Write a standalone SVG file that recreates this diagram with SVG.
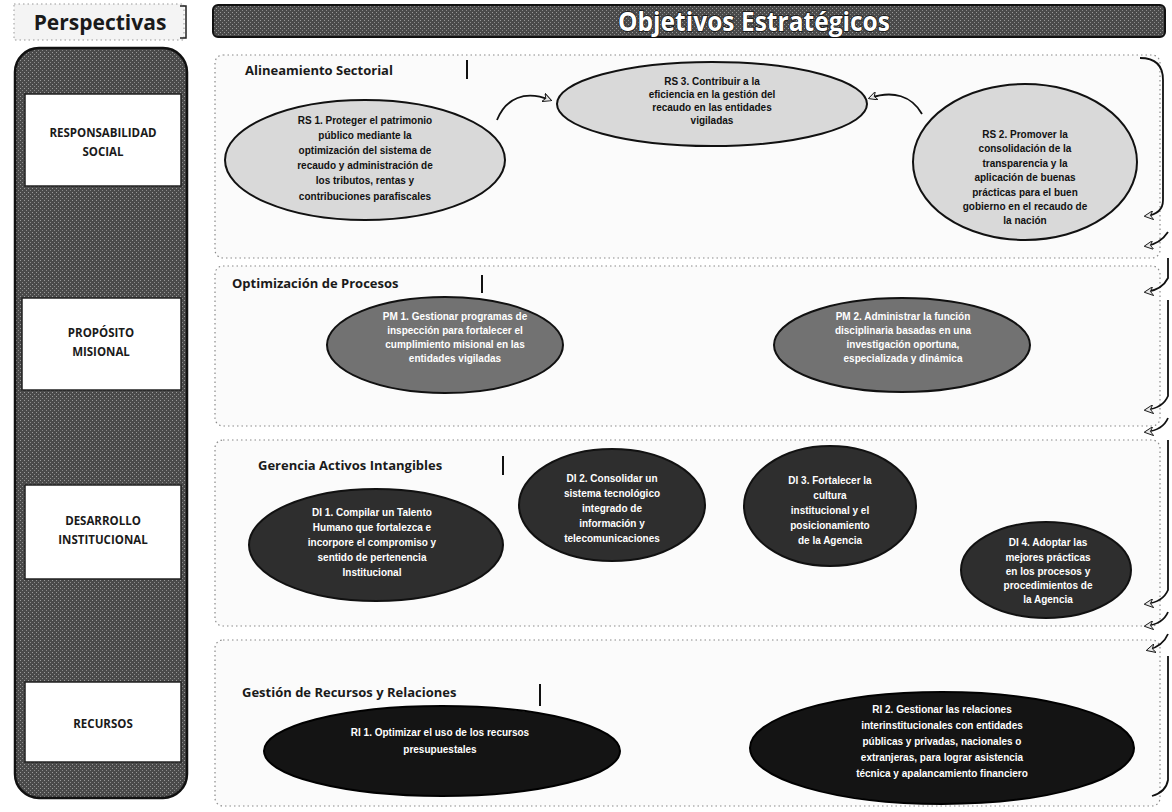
<svg xmlns="http://www.w3.org/2000/svg" width="1172" height="812" viewBox="0 0 1172 812">
<defs>
<marker id="ah" viewBox="0 0 10 10" refX="8" refY="5" markerWidth="9" markerHeight="9" orient="auto-start-reverse" markerUnits="userSpaceOnUse">
<path d="M0,0 L10,5 L0,10 L3,5 Z" fill="#e8e8e8" stroke="#111" stroke-width="1"/>
</marker>
<pattern id="grain" width="4" height="4" patternUnits="userSpaceOnUse">
<rect width="4" height="4" fill="#4a4a4a"/>
<rect x="0" y="0" width="1" height="1" fill="#9a9a9a"/>
<rect x="2" y="2" width="1" height="1" fill="#8a8a8a"/>
</pattern>
</defs>
<style>
.band{fill:#fbfbfb;stroke:#8a8a8a;stroke-width:1.2;stroke-dasharray:1.5 3}
.hdr{font-family:"Open Sans","Liberation Sans",Arial,sans-serif;font-weight:bold;font-size:13px;fill:#1a1a1a}
.bar{stroke:#111;stroke-width:2}
.et{font-family:"Liberation Sans",Arial,sans-serif;font-weight:bold;font-size:10px;text-anchor:middle}
.on-light{fill:#111}
.on-dark{fill:#fff}
.e1{fill:#d9d9d9;stroke:#111;stroke-width:2}
.e2{fill:#727272;stroke:#111;stroke-width:2}
.e3{fill:#2e2e2e;stroke:#111;stroke-width:2}
.e4{fill:#141414;stroke:#000;stroke-width:2}
.pbox{fill:#fff;stroke:#222;stroke-width:1.5}
.pl{font-family:"Open Sans","Liberation Sans",Arial,sans-serif;font-weight:bold;font-size:11.5px;text-anchor:middle;fill:#1a1a1a}
.conn{fill:none;stroke:#111;stroke-width:1.8}
</style>
<rect width="1172" height="812" fill="#ffffff"/>

<g id="header-perspectivas">
<rect x="14" y="4" width="170" height="36" fill="#f4f4f4" stroke="#999" stroke-dasharray="1.5 3"/>
<path d="M180,6 L186,6 L186,38 L180,38" fill="none" stroke="#222" stroke-width="1.5"/>
<text x="100" y="30" text-anchor="middle" font-family="'Open Sans','Liberation Sans',Arial,sans-serif" font-weight="bold" font-size="21" fill="#1a1a1a">Perspectivas</text>
</g>

<g id="header-objetivos">
<rect x="213" y="5" width="952" height="32" rx="5" fill="url(#grain)" stroke="#111" stroke-width="2"/>
<text x="754" y="31" text-anchor="middle" font-family="'Open Sans','Liberation Sans',Arial,sans-serif" font-weight="bold" font-size="27" fill="#fff" stroke="#111" stroke-width="1.6" paint-order="stroke" textLength="272" lengthAdjust="spacingAndGlyphs">Objetivos Estratégicos</text>
</g>

<g id="perspectives-column">
<rect x="15" y="48" width="172" height="750" rx="24" fill="url(#grain)" stroke="#111" stroke-width="2.5"/>
</g>
<g id="p-responsabilidad">
<rect class="pbox" x="25" y="94" width="156" height="92"/>
<text class="pl" x="103" y="137">RESPONSABILIDAD</text>
<text class="pl" x="103" y="156">SOCIAL</text>
</g>
<g id="p-proposito">
<rect class="pbox" x="22" y="298" width="159" height="92"/>
<text class="pl" x="101" y="337">PROPÓSITO</text>
<text class="pl" x="101" y="356">MISIONAL</text>
</g>
<g id="p-desarrollo">
<rect class="pbox" x="25" y="485" width="156" height="94"/>
<text class="pl" x="103" y="525">DESARROLLO</text>
<text class="pl" x="103" y="544">INSTITUCIONAL</text>
</g>
<g id="p-recursos">
<rect class="pbox" x="25" y="682" width="156" height="80"/>
<text class="pl" x="103" y="728">RECURSOS</text>
</g>

<g id="band-alineamiento">
<rect class="band" x="215" y="55" width="945" height="203" rx="8"/>
<text class="hdr" x="245" y="75">Alineamiento Sectorial</text>
<line class="bar" x1="467" y1="60" x2="467" y2="79"/>
</g>
<g id="band-optimizacion">
<rect class="band" x="215" y="266" width="945" height="160" rx="8"/>
<text class="hdr" x="232" y="288">Optimización de Procesos</text>
<line class="bar" x1="482" y1="275" x2="482" y2="293"/>
</g>
<g id="band-gerencia">
<rect class="band" x="215" y="440" width="945" height="186" rx="8"/>
<text class="hdr" x="258" y="470">Gerencia Activos Intangibles</text>
<line class="bar" x1="503" y1="456" x2="503" y2="475"/>
</g>
<g id="band-gestion">
<rect class="band" x="215" y="640" width="945" height="166" rx="8"/>
<text class="hdr" x="242" y="697">Gestión de Recursos y Relaciones</text>
<line class="bar" x1="540" y1="684" x2="540" y2="706"/>
</g>

<g id="rs1">
<ellipse class="e1" cx="365" cy="160" rx="140" ry="60"/>
<text class="et on-light" x="365" y="124">RS 1. Proteger el patrimonio</text>
<text class="et on-light" x="365" y="139">público mediante la</text>
<text class="et on-light" x="365" y="154">optimización del sistema de</text>
<text class="et on-light" x="365" y="169">recaudo y administración de</text>
<text class="et on-light" x="365" y="184">los tributos, rentas y</text>
<text class="et on-light" x="365" y="200">contribuciones parafiscales</text>
</g>
<g id="rs3">
<ellipse class="e1" cx="712" cy="104" rx="155" ry="42"/>
<text class="et on-light" x="712" y="85">RS 3. Contribuir a la</text>
<text class="et on-light" x="712" y="98">eficiencia en la gestión del</text>
<text class="et on-light" x="712" y="111">recaudo en las entidades</text>
<text class="et on-light" x="712" y="124">vigiladas</text>
</g>
<g id="rs2">
<ellipse class="e1" cx="1025" cy="162" rx="112" ry="78"/>
<text class="et on-light" x="1025" y="138">RS 2. Promover la</text>
<text class="et on-light" x="1025" y="152">consolidación de la</text>
<text class="et on-light" x="1025" y="167">transparencia y la</text>
<text class="et on-light" x="1025" y="181">aplicación de buenas</text>
<text class="et on-light" x="1025" y="196">prácticas para el buen</text>
<text class="et on-light" x="1025" y="210">gobierno en el recaudo de</text>
<text class="et on-light" x="1025" y="224">la nación</text>
</g>

<g id="pm1">
<ellipse class="e2" cx="445" cy="345" rx="118" ry="48"/>
<text class="et on-dark" x="455" y="320">PM 1. Gestionar programas de</text>
<text class="et on-dark" x="455" y="334">inspección para fortalecer el</text>
<text class="et on-dark" x="455" y="348">cumplimiento misional en las</text>
<text class="et on-dark" x="455" y="362">entidades vigiladas</text>
</g>
<g id="pm2">
<ellipse class="e2" cx="902" cy="345" rx="128" ry="47"/>
<text class="et on-dark" x="903" y="320">PM 2. Administrar la función</text>
<text class="et on-dark" x="903" y="334">disciplinaria basadas en una</text>
<text class="et on-dark" x="903" y="348">investigación oportuna,</text>
<text class="et on-dark" x="903" y="362">especializada y dinámica</text>
</g>

<g id="di1">
<ellipse class="e3" cx="376" cy="545" rx="127" ry="56"/>
<text class="et on-dark" x="372" y="516">DI 1. Compilar un Talento</text>
<text class="et on-dark" x="372" y="531">Humano que fortalezca e</text>
<text class="et on-dark" x="372" y="546">incorpore el compromiso y</text>
<text class="et on-dark" x="372" y="561">sentido de pertenencia</text>
<text class="et on-dark" x="372" y="576">Institucional</text>
</g>
<g id="di2">
<ellipse class="e3" cx="612" cy="505" rx="93" ry="56"/>
<text class="et on-dark" x="612" y="482">DI 2. Consolidar un</text>
<text class="et on-dark" x="612" y="497">sistema tecnológico</text>
<text class="et on-dark" x="612" y="512">integrado de</text>
<text class="et on-dark" x="612" y="527">información y</text>
<text class="et on-dark" x="612" y="542">telecomunicaciones</text>
</g>
<g id="di3">
<ellipse class="e3" cx="830" cy="506" rx="86" ry="60"/>
<text class="et on-dark" x="830" y="484">DI 3. Fortalecer la</text>
<text class="et on-dark" x="830" y="499">cultura</text>
<text class="et on-dark" x="830" y="514">institucional y el</text>
<text class="et on-dark" x="830" y="529">posicionamiento</text>
<text class="et on-dark" x="830" y="544">de la Agencia</text>
</g>
<g id="di4">
<ellipse class="e3" cx="1046" cy="570" rx="85" ry="48"/>
<text class="et on-dark" x="1048" y="546">DI 4. Adoptar las</text>
<text class="et on-dark" x="1048" y="561">mejores prácticas</text>
<text class="et on-dark" x="1048" y="575">en los procesos y</text>
<text class="et on-dark" x="1048" y="589">procedimientos de</text>
<text class="et on-dark" x="1048" y="603">la Agencia</text>
</g>

<g id="ri1">
<ellipse class="e4" cx="442" cy="751" rx="178" ry="45"/>
<text class="et on-dark" x="440" y="736">RI 1. Optimizar el uso de los recursos</text>
<text class="et on-dark" x="440" y="753">presupuestales</text>
</g>
<g id="ri2">
<ellipse class="e4" cx="942" cy="748" rx="192" ry="56"/>
<text class="et on-dark" x="942" y="713">RI 2. Gestionar las relaciones</text>
<text class="et on-dark" x="942" y="729">interinstitucionales con entidades</text>
<text class="et on-dark" x="942" y="745">públicas y privadas, nacionales o</text>
<text class="et on-dark" x="942" y="761">extranjeras, para lograr asistencia</text>
<text class="et on-dark" x="942" y="777">técnica y  apalancamiento financiero</text>
</g>

<g id="connectors">
<path class="conn" d="M497,120 C506,98 525,90 550,100" marker-end="url(#ah)"/>
<path class="conn" d="M922,114 C912,96 893,90 870,98" marker-end="url(#ah)"/>
<path class="conn" d="M1140,58 Q1163,58 1163,80 L1163,200 Q1163,214 1146,216" marker-end="url(#ah)"/>
<path class="conn" d="M1168,232 Q1160,244 1146,246" marker-end="url(#ah)"/>
<path class="conn" d="M1168,258 L1168,278 Q1162,290 1146,292" marker-end="url(#ah)"/>
<path class="conn" d="M1168,300 L1168,396 Q1163,408 1146,410" marker-end="url(#ah)"/>
<path class="conn" d="M1168,418 Q1163,430 1146,432" marker-end="url(#ah)"/>
<path class="conn" d="M1168,440 L1168,590 Q1163,602 1146,604" marker-end="url(#ah)"/>
<path class="conn" d="M1168,612 Q1163,624 1146,626" marker-end="url(#ah)"/>
<path class="conn" d="M1168,634 Q1163,646 1148,650" marker-end="url(#ah)"/>
<path class="conn" d="M1168,656 L1168,780 Q1166,792 1152,796"/>
</g>
</svg>
